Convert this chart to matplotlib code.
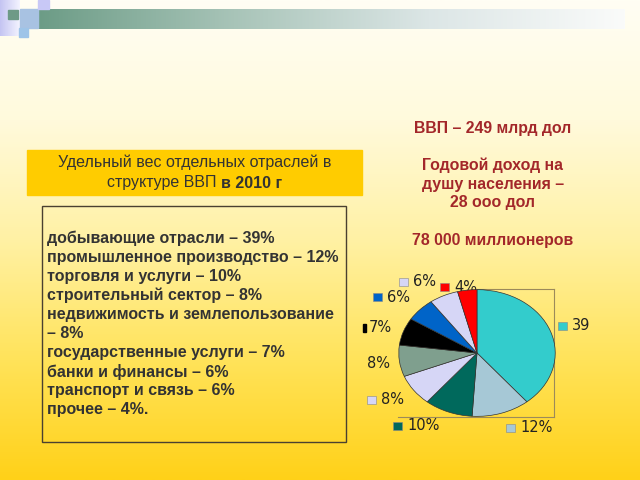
import numpy as np
import matplotlib.pyplot as plt
from matplotlib.colors import LinearSegmentedColormap
from matplotlib.patches import Rectangle

plt.rcParams['font.family'] = ['Liberation Sans', 'DejaVu Sans']

# data
shares = [39, 12, 10, 8, 8, 7, 6, 6, 4]
share_labels = ['39', '12%', '10%', '8%', '8%', '7%', '6%', '6%', '4%']
colors = ['#33CCCC', '#A6C8D6', '#00695C', '#D6D6F6', '#7F9F8E',
          '#000000', '#0064C8', '#D6D6F6', '#FF0000']
legend_lines = [
    'добывающие отрасли – 39%',
    'промышленное производство – 12%',
    'торговля и услуги – 10%',
    'строительный сектор – 8%',
    'недвижимость и землепользование',
    '– 8%',
    'государственные услуги – 7%',
    'банки и финансы – 6%',
    'транспорт и связь – 6%',
    'прочее – 4%.',
]
info_lines = ['ВВП – 249 млрд дол', '', 'Годовой доход на', 'душу населения –',
              '28 ооо дол', '', '78 000 миллионеров']

# label placement (pixels): text x, y, marker kind
label_pos = [(572, 326, 'sq'), (520, 428, 'sq'), (407, 426, 'sq'), (381, 400, 'sq'),
             (367, 364, None), (369, 328, 'bar'), (387, 297, 'sq'), (413, 282, 'sq'),
             (454, 287, 'sq')]

W, H = 640, 480
fig = plt.figure(figsize=(6.4, 4.8), dpi=100)
bg = fig.add_axes([0, 0, 1, 1])
bg.set_xlim(0, W)
bg.set_ylim(H, 0)
bg.axis('off')

# background gradient
cmap = LinearSegmentedColormap.from_list('bg', ['#FFFEF4', '#FFFADC', '#FFF1A4', '#FFE35A', '#FFD118'])
grad = np.linspace(0, 1, 256).reshape(-1, 1)
bg.imshow(grad, cmap=cmap, extent=[0, W, H, 0], aspect='auto', zorder=0)

# header decoration
gbar = LinearSegmentedColormap.from_list('gb', ['#6C9C86', '#A8C4B8', '#DCE6E6', '#FAFBFA'])
bg.imshow(np.linspace(0, 1, 256).reshape(1, -1), cmap=gbar, extent=[38, 625, 29, 9],
          aspect='auto', zorder=1)
lav = LinearSegmentedColormap.from_list('lv', ['#C4C4F2', '#F4F4FF'])
bg.imshow(np.linspace(0, 1, 64).reshape(1, -1), cmap=lav, extent=[0, 20, 36, 0],
          aspect='auto', zorder=1)
bg.add_patch(Rectangle((8, 10), 10, 9, color='#6E9A86', zorder=2))
bg.add_patch(Rectangle((20, 9), 18, 19, color='#A8C2E2', zorder=2))
bg.add_patch(Rectangle((19, 28), 9, 9, color='#9EC4E8', zorder=2))
bg.add_patch(Rectangle((38, 0), 11, 9, color='#C8C8F6', zorder=2))

# title box
bg.add_patch(Rectangle((27, 150), 335, 45, color='#FFCC00', zorder=2))
bg.text(195, 162, 'Удельный вес отдельных отраслей в', ha='center', va='center',
        fontsize=11.5, color='#333333', zorder=3)
bg.text(221, 183, 'структуре ВВП ', ha='right', va='center',
        fontsize=11.5, color='#333333', zorder=3)
bg.text(221, 183, 'в 2010 г', ha='left', va='center', fontsize=11.5,
        fontweight='bold', color='#333333', zorder=3)

# legend box
bg.add_patch(Rectangle((42, 206), 304, 236, fill=False, edgecolor='#4A4030', lw=1, zorder=2))
for i, line in enumerate(legend_lines):
    bg.text(47, 238 + i * 19.1, line, ha='left', va='center', fontsize=11.5,
            fontweight='bold', color='#333333', zorder=3)

# info text
for i, line in enumerate(info_lines):
    bg.text(493, 128 + i * 18.7, line, ha='center', va='center', fontsize=11.4,
            fontweight='bold', color='#A3272A', zorder=3)

# plot area frame
frame = '#9C8A5A'
bg.plot([477, 554], [289, 289], color=frame, lw=0.8, zorder=2)
bg.plot([554, 554], [289, 417], color=frame, lw=0.8, zorder=2)
bg.plot([398, 554], [417, 417], color=frame, lw=0.8, zorder=2)

# pie
pl, pr, pt, pb = 398, 556, 289, 417
ax = fig.add_axes([pl / W, 1 - pb / H, (pr - pl) / W, (pb - pt) / H])
ax.pie(shares, colors=colors, startangle=90, counterclock=False,
       wedgeprops=dict(edgecolor='#333333', linewidth=0.5))
ax.set_aspect('auto')
ax.set_xlim(-1.01, 1.01)
ax.set_ylim(-1.01, 1.01)
ax.axis('off')

# data labels
for lab, col, (x, y, kind) in zip(share_labels, colors, label_pos):
    if kind == 'sq':
        bg.add_patch(Rectangle((x - 14, y - 4.5), 9, 8, facecolor=col,
                               edgecolor='#888888', lw=0.4, zorder=3))
    elif kind == 'bar':
        bg.add_patch(Rectangle((x - 6, y - 4), 3, 8, color=col, zorder=3))
    bg.text(x, y, lab, ha='left', va='center', fontsize=10.5, family='DejaVu Sans',
            color='#222222', zorder=3)

fig.savefig('out.png', dpi=100)
